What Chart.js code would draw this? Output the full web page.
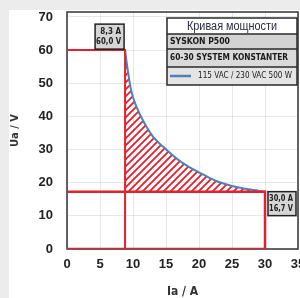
<!DOCTYPE html>
<html>
<head>
<meta charset="utf-8">
<script src="https://cdn.jsdelivr.net/npm/chart.js@4"></script>
<style>
html, body { margin: 0; padding: 0; background: #ececec; overflow: hidden; width: 300px; height: 298px; }
#wrap { position: absolute; left: 9px; top: 10px; width: 311px; height: 288px; background: #fff; }
</style>
</head>
<body>
<div id="wrap"><canvas id="chart"></canvas></div>
<script>
// Daten
const xTicks = [0, 5, 10, 15, 20, 25, 30, 35];
const yTicks = [0, 10, 20, 30, 40, 50, 60, 70];

const curveI = [8.8, 9.2, 9.7, 10.5, 11.7, 13.0, 15.1, 17.5, 20.1, 22.5, 25.0, 27.5, 30.0];
const curveU = [59.8, 54.0, 48.0, 43.0, 38.1, 34.0, 29.9, 26.0, 23.0, 20.6, 19.0, 18.0, 17.3];

const boxI = [0, 0, 8.8, 8.8];
const boxU = [0, 60, 60, 0];

const limitI = [0, 30, 30, 0];
const limitU = [17.3, 17.3, 0, 0];

const cornerPoint = [8.8, 60];
const endPoint = [30, 17.3];
const cornerLabels = ['8,3 A', '60,0 V'];
const endLabels = ['30,0 A', '16,7 V'];

const legendTitle = 'Кривая мощности';
const legendRows = ['SYSKON P500', '60-30 SYSTEM KONSTANTER', '115 VAC / 230 VAC 500 W'];

const rot = '#e3202d';
const blau = '#4f81b8';
const schrift = "'Liberation Sans', Arial, sans-serif";
const schmal = "'Liberation Sans Narrow', 'DejaVu Sans Condensed', 'Liberation Sans', sans-serif";

function punkte(xs, ys) {
    return xs.map((x, i) => ({ x: x, y: ys[i] }));
}

// Schraffur
function schraffur() {
    const tile = document.createElement('canvas');
    tile.width = 7;
    tile.height = 7;
    const t = tile.getContext('2d');
    t.strokeStyle = rot;
    t.lineWidth = 1.8;
    t.beginPath();
    t.moveTo(-1, 8); t.lineTo(8, -1);
    t.moveTo(-1, 1); t.lineTo(1, -1);
    t.moveTo(6, 8); t.lineTo(8, 6);
    t.stroke();
    return t.createPattern(tile, 'repeat');
}

function kasten(ctx, x, y, w, h, zeilen) {
    ctx.fillStyle = '#d6d6d6';
    ctx.fillRect(x, y, w, h);
    ctx.strokeStyle = '#222';
    ctx.lineWidth = 1.5;
    ctx.strokeRect(x, y, w, h);
    ctx.fillStyle = '#222';
    ctx.font = "bold 8px " + schmal;
    ctx.textAlign = 'right';
    ctx.textBaseline = 'middle';
    ctx.fillText(zeilen[0], x + w - 3, y + h * 0.3, w - 4);
    ctx.fillText(zeilen[1], x + w - 3, y + h * 0.72, w - 4);
}

const rahmenPlugin = {
    id: 'rahmen',
    beforeDatasetsDraw(chart) {
        const { ctx, chartArea: a } = chart;
        ctx.save();
        ctx.strokeStyle = '#333';
        ctx.lineWidth = 1.5;
        ctx.strokeRect(a.left, a.top, a.right - a.left, a.bottom - a.top);
        ctx.restore();
    },
    afterDraw(chart) {
        const { ctx, chartArea: a } = chart;
        const sx = chart.scales.x;
        const sy = chart.scales.y;
        ctx.save();

        // Eckpunkte
        const px1 = sx.getPixelForValue(cornerPoint[0]);
        const py1 = sy.getPixelForValue(cornerPoint[1]);
        kasten(ctx, px1 - 30, py1 - 26, 29, 25, cornerLabels);

        const px2 = sx.getPixelForValue(endPoint[0]);
        const py2 = sy.getPixelForValue(endPoint[1]);
        kasten(ctx, px2 + 3, py2, 28, 24, endLabels);

        // Legende
        const lw = 130;
        const lx = a.right - 1 - lw;
        let ly = a.top + 6;
        const hoehen = [16, 15, 18, 18];
        const farben = ['#ffffff', '#d3d3d3', '#dadada', '#e4e4e4'];
        const gesamt = hoehen.reduce((s, h) => s + h, 0);

        let y = ly;
        hoehen.forEach((h, i) => {
            ctx.fillStyle = farben[i];
            ctx.fillRect(lx, y, lw, h);
            y += h;
        });

        ctx.strokeStyle = '#2a2a2a';
        ctx.lineWidth = 1.5;
        y = ly;
        for (let i = 0; i < hoehen.length - 1; i++) {
            y += hoehen[i];
            ctx.beginPath();
            ctx.moveTo(lx, y);
            ctx.lineTo(lx + lw, y);
            ctx.stroke();
        }
        ctx.strokeRect(lx, ly, lw, gesamt);

        ctx.textBaseline = 'middle';
        ctx.fillStyle = '#2b2b44';
        ctx.font = "12px " + schrift;
        ctx.textAlign = 'center';
        ctx.fillText(legendTitle, lx + lw / 2, ly + hoehen[0] / 2 + 1, 90);

        ctx.fillStyle = '#1a1a1a';
        ctx.textAlign = 'left';
        ctx.font = "bold 9px " + schmal;
        let yy = ly + hoehen[0];
        ctx.fillText(legendRows[0], lx + 3, yy + hoehen[1] / 2, 60);
        yy += hoehen[1];
        ctx.fillText(legendRows[1], lx + 3, yy + hoehen[2] / 2, 118);
        yy += hoehen[2];

        ctx.strokeStyle = blau;
        ctx.lineWidth = 2.5;
        ctx.beginPath();
        ctx.moveTo(lx + 3, yy + hoehen[3] / 2);
        ctx.lineTo(lx + 24, yy + hoehen[3] / 2);
        ctx.stroke();

        ctx.font = "9px " + schmal;
        ctx.fillText(legendRows[2], lx + 31, yy + hoehen[3] / 2, 94);

        ctx.restore();
    }
};

const ctx = document.getElementById('chart').getContext('2d');
const chart = new Chart(ctx, {
    type: 'line',
    data: {
        datasets: [
            {
                label: 'curve',
                data: punkte(curveI, curveU),
                borderColor: blau,
                borderWidth: 2,
                backgroundColor: schraffur(),
                fill: { value: endPoint[1] },
                cubicInterpolationMode: 'monotone',
                pointRadius: 0,
                order: 1
            },
            {
                label: 'box',
                data: punkte(boxI, boxU),
                borderColor: rot,
                borderWidth: 2,
                fill: false,
                tension: 0,
                pointRadius: 0,
                order: 0
            },
            {
                label: 'limit',
                data: punkte(limitI, limitU),
                borderColor: rot,
                borderWidth: 2.5,
                fill: false,
                tension: 0,
                pointRadius: 0,
                order: 0
            }
        ]
    },
    options: {
        responsive: true,
        maintainAspectRatio: false,
        animation: false,
        devicePixelRatio: 1,
        layout: { padding: { top: 2, right: 22, bottom: 0, left: 0 } },
        plugins: {
            legend: { display: false },
            tooltip: { enabled: false }
        },
        scales: {
            x: {
                type: 'linear',
                min: 0,
                max: 35,
                afterBuildTicks: (scale) => { scale.ticks = xTicks.map(v => ({ value: v })); },
                afterFit: (scale) => { scale.height = 49; scale.paddingLeft = 0; scale.paddingRight = 0; },
                grid: { color: 'rgba(0,0,0,0.09)', drawTicks: false },
                border: { display: false },
                ticks: {
                    padding: 8,
                    maxRotation: 0,
                    color: '#222',
                    font: { family: schrift, size: 13, weight: 'bold' }
                },
                title: {
                    display: true,
                    text: 'Ia / A',
                    color: '#333',
                    padding: { top: 0, bottom: 0 },
                    font: { family: schmal, size: 12, weight: 'bold', lineHeight: 1 }
                }
            },
            y: {
                min: 0,
                max: 71.5,
                afterBuildTicks: (scale) => { scale.ticks = yTicks.map(v => ({ value: v })); },
                afterFit: (scale) => { scale.width = 58; scale.paddingTop = 0; scale.paddingBottom = 0; },
                grid: { color: 'rgba(0,0,0,0.09)', drawTicks: false },
                border: { display: false },
                ticks: {
                    padding: 14,
                    color: '#222',
                    font: { family: schrift, size: 13, weight: 'bold' }
                },
                title: {
                    display: true,
                    text: 'Ua / V',
                    color: '#333',
                    padding: { top: 1, bottom: 0 },
                    font: { family: schmal, size: 11, weight: 'bold', lineHeight: 1 }
                }
            }
        }
    },
    plugins: [rahmenPlugin]
});
</script>
</body>
</html>
